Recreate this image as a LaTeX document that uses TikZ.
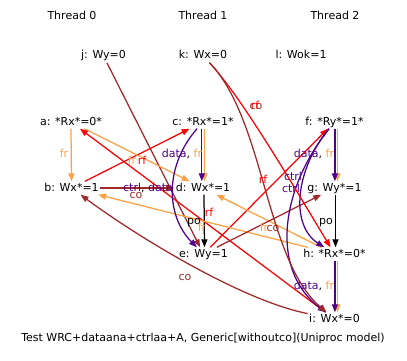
\documentclass[tikz,border=0pt]{standalone}
\usepackage{fontspec}
\setmainfont{DejaVu Sans}
\usetikzlibrary{arrows.meta}
\definecolor{frc}{RGB}{255,160,70}
\definecolor{rfc}{RGB}{255,0,0}
\definecolor{coc}{RGB}{160,40,40}
\definecolor{ddc}{RGB}{80,0,140}
\begin{document}
\begin{tikzpicture}[x=1pt,y=-1pt,
  font=\fontsize{11}{13}\selectfont,
  ev/.style={inner sep=1.5pt,text height=8pt,text depth=2pt},
  lbl/.style={inner sep=0pt,text height=8pt,text depth=2pt},
  edge/.style={line width=1.25pt,-{Triangle[length=8pt,width=6pt]}},
  fre/.style={edge,draw=frc},
  rfe/.style={edge,draw=rfc},
  coe/.style={edge,draw=coc},
  dde/.style={edge,draw=ddc},
  poe/.style={edge,draw=black},
]
\useasboundingbox (0,0) rectangle (407,361);
% threads
\node[ev] (t0) at (72,17) {Thread 0};
\node[ev] (t1) at (203,17) {Thread 1};
\node[ev] (t2) at (335,17) {Thread 2};
% events
\node[ev] (j) at (103.5,56) {j: Wy=0};
\node[ev] (k) at (203,56) {k: Wx=0};
\node[ev] (l) at (301,56) {l: Wok=1};
\node[ev] (a) at (71,122) {a: *Rx*=0*};
\node[ev] (b) at (71.5,188) {b: Wx*=1};
\node[ev] (c) at (203,122) {c: *Rx*=1*};
\node[ev] (d) at (203,188) {d: Wx*=1};
\node[ev] (e) at (203.5,254) {e: Wy=1};
\node[ev] (f) at (334.5,122) {f: *Ry*=1*};
\node[ev] (g) at (334.5,188) {g: Wy*=1};
\node[ev] (h) at (334.5,254) {h: *Rx*=0*};
\node[ev] (i) at (334.5,319) {i: Wx*=0};
\node[ev] (cap) at (203,338) {Test WRC+dataana+ctrlaa+A, Generic[withoutco](Uniproc model)};
% vertical edges
\draw[fre] (a.south) -- (b.north);
\draw[fre] ([xshift=1.5pt]c.south) -- ([xshift=1.5pt]d.north);
\draw[dde] ([xshift=-1.2pt]c.south) -- ([xshift=-1.2pt]d.north);
\draw[poe] ([xshift=1pt]d.south) -- ([xshift=1pt]e.north);
\draw[fre] ([xshift=3pt]f.south) -- ([xshift=3pt]g.north);
\draw[dde] ([xshift=0.4pt]f.south) -- ([xshift=0.4pt]g.north);
\draw[poe] ([xshift=1pt]g.south) -- ([xshift=1pt]h.north);
\draw[fre] ([xshift=3pt]h.south) -- ([xshift=3pt]i.north);
\draw[dde] ([xshift=0.4pt]h.south) -- ([xshift=0.4pt]i.north);
% straight cross edges
\draw[coe] (j) -- (e);
\draw[coe,line width=1.9pt] (b) -- (d);
\draw[rfe] (b) -- (c);
\draw[fre] (a) -- (d);
\draw[rfe] (i) -- (a);
\draw[rfe] (e) -- (f);
\draw[fre] (h) -- (b);
\draw[fre] (h) -- (d);
\draw[coe] (e) -- (g);
% curved edges
\draw[dde] (c) .. controls (165,165) and (165,215) .. (e);
\draw[dde] (f) .. controls (295,170) and (290,225) .. (h);
\draw[dde] (f) .. controls (280,190) and (270,270) .. (i);
\draw[rfe] (k) .. controls (240,95) and (290,180) .. (h);
\draw[coe] (k) .. controls (265,120) and (265,260) .. (i);
\draw[coe] (i) .. controls (240,300) and (135,235) .. (b);
% labels
\node[lbl,text=frc] (l1) at (64,154) {fr};
\node[lbl] (l2) at (182,154) {\textcolor{ddc}{data}, \textcolor{frc}{fr}};
\node[lbl] (l3) at (194,221) {po};
\node[lbl,text=rfc] (l4) at (209,213) {rf};
\node[lbl,text=frc] (l5) at (202,228) {fr};
\node[lbl,text=frc] (l6) at (132,161) {fr};
\node[lbl,text=rfc] (l7) at (142,161) {rf};
\node[lbl] (l8) at (148,188) {\textcolor{ddc}{ctrl}, \textcolor{ddc}{data}};
\node[lbl,text=coc] (l9) at (136,195) {co};
\node[lbl,text=coc] (l10) at (185,277) {co};
\node[lbl,text=coc] (l11) at (256,107) {co};
\node[lbl,text=rfc] (l12) at (255,107) {rf};
\node[lbl,text=rfc] (l13) at (263,180) {rf};
\node[lbl,text=ddc] (l14) at (293,177) {ctrl};
\node[lbl,text=ddc] (l15) at (291,189) {ctrl};
\node[lbl] (l16) at (314,154) {\textcolor{ddc}{data}, \textcolor{frc}{fr}};
\node[lbl] (l17) at (326,221) {po};
\node[lbl,text=frc] (l18) at (264,228) {fr};
\node[lbl,text=coc] (l19) at (273,228) {co};
\node[lbl] (l20) at (314,286) {\textcolor{ddc}{data}, \textcolor{frc}{fr}};
\end{tikzpicture}
\end{document}
